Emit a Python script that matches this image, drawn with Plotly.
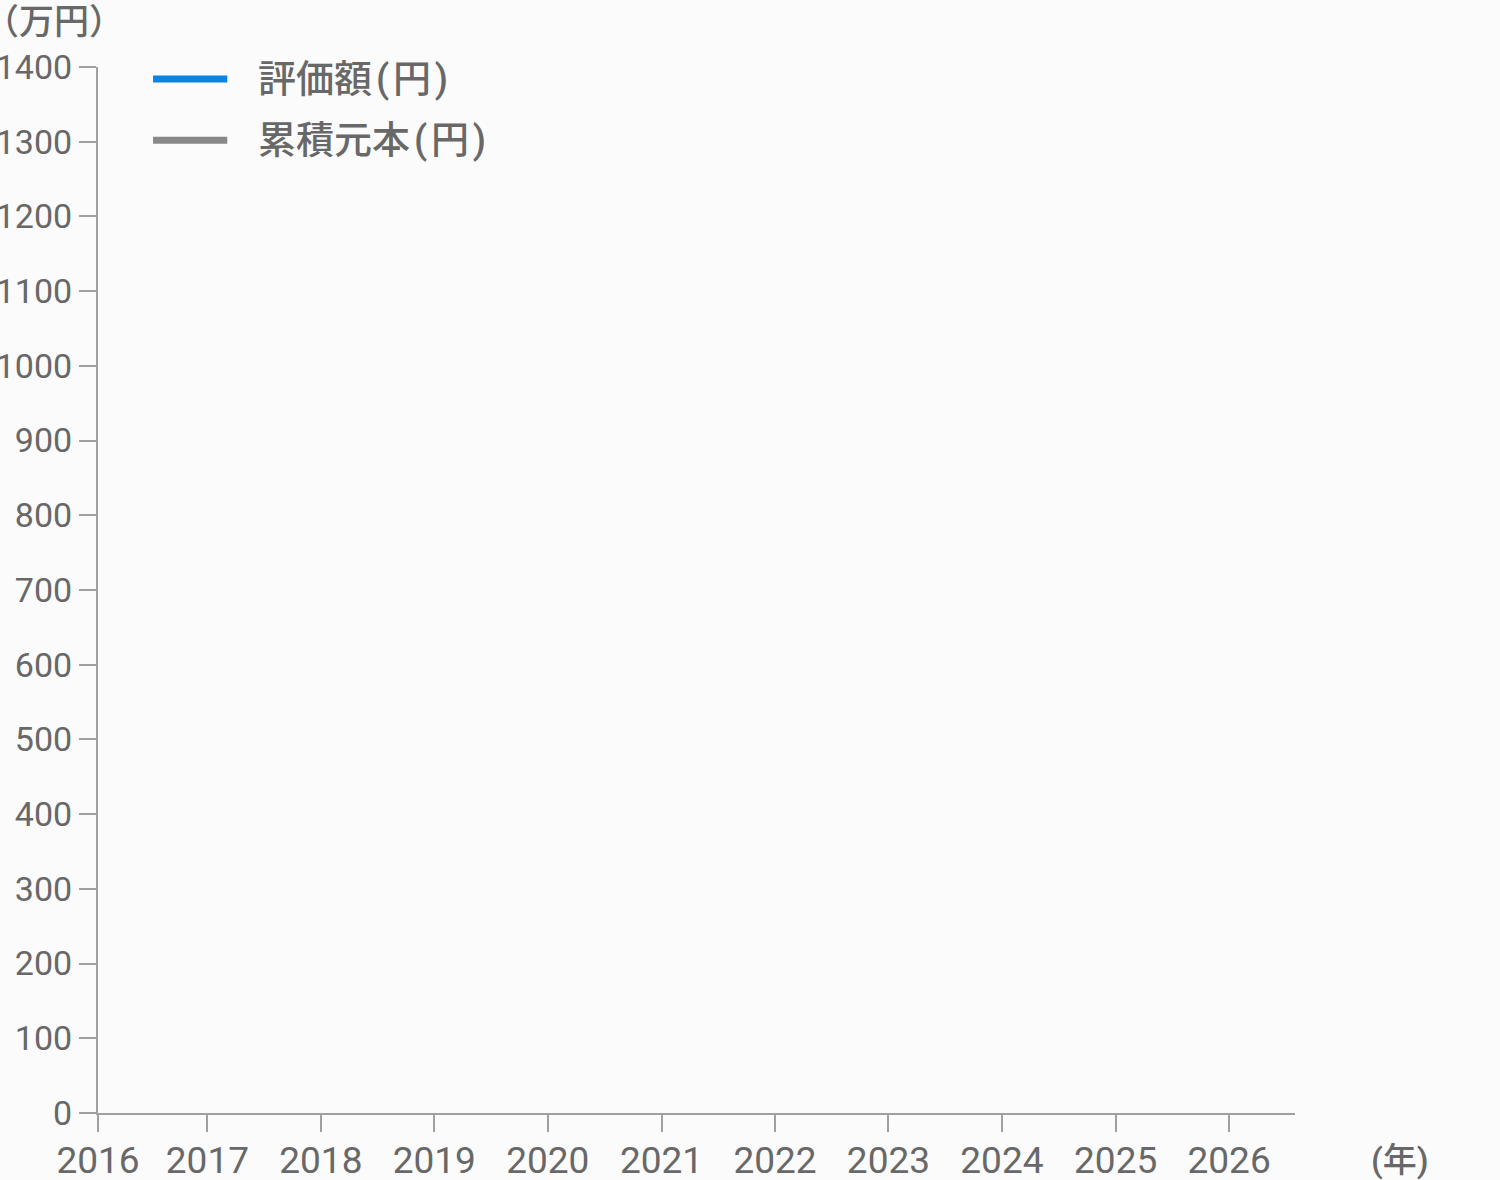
import plotly.graph_objects as go

# データ（参照画像では系列は空）
years = ["2016", "2017", "2018", "2019", "2020", "2021", "2022", "2023", "2024", "2025", "2026"]
tick_dates = ["2016-01-15"] + [y + "-01-01" for y in years[1:]]
dates = []
valuation = []   # 評価額（万円）
principal = []   # 累積元本（万円）
y_ticks = list(range(0, 1500, 100))

names = ["評価額\u200a(\u200a円\u200a)", "累積元本\u200a(\u200a円\u200a)"]
colors = ["#0a84e3", "#888888"]

font_family = "Roboto, 'Noto Sans CJK JP', sans-serif"
text_color = "#686868"
axis_color = "#a0a0a0"

fig = go.Figure()
fig.add_trace(go.Scatter(x=dates, y=valuation, mode="lines", name=names[0],
                         line=dict(color=colors[0], width=4), showlegend=False))
fig.add_trace(go.Scatter(x=dates, y=principal, mode="lines", name=names[1],
                         line=dict(color=colors[1], width=4), showlegend=False))

# 凡例（手描き）
for i, (n, c) in enumerate(zip(names, colors)):
    yy = 0.9885 - i * 0.0585
    fig.add_shape(type="line", xref="paper", yref="paper",
                  x0=0.046, x1=0.108, y0=yy, y1=yy,
                  line=dict(color=c, width=7))
    fig.add_annotation(xref="paper", yref="paper", x=0.132, y=yy,
                       text=n, showarrow=False, xanchor="left", yanchor="middle",
                       font=dict(size=38, color=text_color, family=font_family, weight=500))

fig.add_annotation(xref="paper", yref="paper", x=-0.0368, y=1.043, text="（万円）",
                   showarrow=False, xanchor="center", yanchor="middle",
                   font=dict(size=35, color=text_color, family=font_family, weight=500))
fig.add_annotation(xref="paper", yref="paper", x=1.062, y=-0.045, text="(年)",
                   showarrow=False, xanchor="left", yanchor="middle",
                   font=dict(size=34, color=text_color, family=font_family, weight=500))

fig.update_layout(
    width=1500, height=1180,
    margin=dict(l=98, r=205, t=67, b=67),
    paper_bgcolor="#fbfbfb", plot_bgcolor="#fbfbfb",
    font=dict(family=font_family, size=36, color=text_color),
    showlegend=False,
)
fig.update_xaxes(
    type="date", range=["2016-01-15", "2026-08-01"],
    tickmode="array", tickvals=tick_dates, ticktext=years,
    tickfont=dict(size=37),
    showgrid=False, zeroline=False, automargin=False,
    showline=True, linecolor=axis_color, linewidth=2,
    ticks="outside", ticklen=17, tickwidth=2, tickcolor=axis_color,
    ticklabelstandoff=-3,
)
fig.update_yaxes(
    range=[0, 1400], tickmode="array", tickvals=y_ticks,
    tickfont=dict(size=34),
    showgrid=False, zeroline=False, automargin=False,
    showline=True, linecolor=axis_color, linewidth=2,
    ticks="outside", ticklen=17, tickwidth=2, tickcolor=axis_color,
    ticklabelstandoff=0,
)

fig.write_html("out.html", config={"displayModeBar": False},
               post_script="document.body.style.margin='0';")
